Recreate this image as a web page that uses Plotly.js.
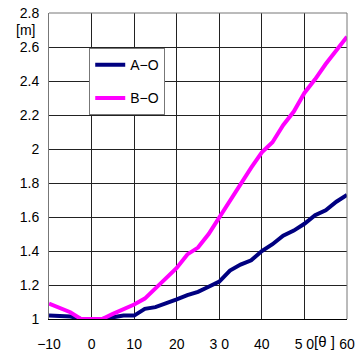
<!DOCTYPE html>
<html>
<head>
<meta charset="utf-8">
<script src="https://cdn.plot.ly/plotly-3.0.1.min.js"></script>
<style>html,body{margin:0;padding:0;background:#fff;}#chart{width:356px;height:352px;}</style>
</head>
<body>
<div id="chart"></div>
<script>
const angle = [-10, -7.5, -5, -2.5, 0, 2.5, 5, 7.5, 10, 12.5, 15, 17.5, 20, 22.5, 25, 27.5, 30, 32.5, 35, 37.5, 40, 42.5, 45, 47.5, 50, 52.5, 55, 57.5, 60];
const seriesAO = [1.02, 1.02, 1.015, 1.0, 1.0, 1.0, 1.01, 1.02, 1.02, 1.06, 1.07, 1.09, 1.115, 1.14, 1.16, 1.19, 1.22, 1.285, 1.32, 1.345, 1.40, 1.44, 1.49, 1.52, 1.56, 1.61, 1.64, 1.69, 1.73];
const seriesBO = [1.09, 1.065, 1.04, 1.0, 1.0, 1.0, 1.03, 1.055, 1.085, 1.12, 1.18, 1.24, 1.30, 1.38, 1.42, 1.50, 1.60, 1.70, 1.80, 1.89, 1.98, 2.04, 2.14, 2.22, 2.33, 2.41, 2.50, 2.58, 2.66];
const xTickVals = [-10, 0, 10, 20, 30, 40, 50, 60];
const xTickText = ["\u221210", "0", "10", "20", "3 0", "40", "5 0", "60"];
const yTickVals = [1, 1.2, 1.4, 1.6, 1.8, 2, 2.2, 2.4, 2.6, 2.8];
const yTickText = ["1", "1.2", "1.4", "1.6", "1.8", "2", "2.2", "2.4", "2.6", "2.8"];
const seriesNames = ["A\u2212O", "B\u2212O"];

const FONT = "Liberation Sans, Arial, sans-serif";
const traces = [
  {x: angle, y: seriesAO, name: seriesNames[0], type: "scatter", mode: "lines",
   line: {color: "#000080", width: 4}, legendgroup: "a"},
  {x: angle, y: seriesBO, name: seriesNames[1], type: "scatter", mode: "lines",
   line: {color: "#FF00FF", width: 4}, legendgroup: "b"}
];
const layout = {
  width: 356, height: 352,
  margin: {l: 49, r: 9, t: 13, b: 33},
  paper_bgcolor: "#fff", plot_bgcolor: "#fff",
  font: {family: FONT, size: 14, color: "#000"},
  showlegend: true,
  legend: {x: 0.135, y: 0.885, xanchor: "left", yanchor: "top",
    bgcolor: "#fff", bordercolor: "#777", borderwidth: 1,
    font: {family: FONT, size: 14, color: "#000"},
    traceorder: "grouped", tracegroupgap: 12, itemwidth: 30},
  xaxis: {range: [-10, 60], tickmode: "array", tickvals: xTickVals, ticktext: xTickText,
    showgrid: true, gridcolor: "#222", gridwidth: 1, zeroline: false,
    showline: true, linecolor: "#000", linewidth: 1, mirror: false,
    ticks: "", ticklabelstandoff: 12, tickfont: {family: FONT, size: 14, color: "#000"}},
  yaxis: {range: [1, 2.8], tickmode: "array", tickvals: yTickVals, ticktext: yTickText,
    showgrid: true, gridcolor: "#222", gridwidth: 1, zeroline: false,
    showline: true, linecolor: "#777", linewidth: 1, mirror: false,
    ticks: "", ticklabelstandoff: 6, tickfont: {family: FONT, size: 14, color: "#000"}},
  shapes: [
    {type: "line", xref: "paper", yref: "paper", x0: 0, x1: 1, y0: 1, y1: 1, line: {color: "#777", width: 1}},
    {type: "line", xref: "paper", yref: "paper", x0: 1, x1: 1, y0: 0, y1: 1, line: {color: "#777", width: 1}}
  ],
  annotations: [
    {text: "[m]", xref: "paper", yref: "paper", x: -0.04, y: 0.944, xanchor: "right", yanchor: "middle",
     showarrow: false, font: {family: FONT, size: 14, color: "#000"}},
    {text: "[\u03b8 ]", xref: "paper", yref: "paper", x: 0.925, y: -0.075, xanchor: "center", yanchor: "middle",
     showarrow: false, bgcolor: "rgba(0,0,0,0)", font: {family: FONT, size: 15, color: "#000"}}
  ]
};
Plotly.newPlot("chart", traces, layout, {displayModeBar: false, staticPlot: true});
</script>
</body>
</html>
